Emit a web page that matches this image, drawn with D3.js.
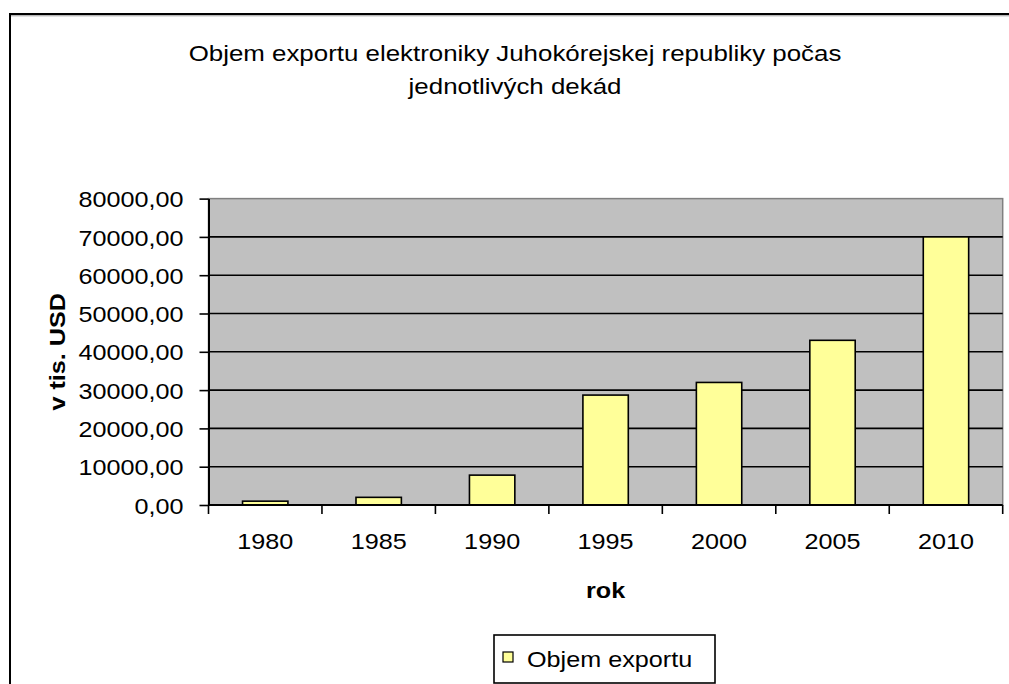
<!DOCTYPE html>
<html>
<head>
<meta charset="utf-8">
<script src="https://cdn.jsdelivr.net/npm/d3@7"></script>
<style>
  body { margin: 0; background: #fff; }
  text { font-family: "Liberation Sans", Arial, sans-serif; fill: #000; }
</style>
</head>
<body>
<div id="chart"></div>
<script>
// export of electronics, South Korea, by decade
var years = ["1980", "1985", "1990", "1995", "2000", "2005", "2010"];
var exportValues = [1000, 2000, 7800, 28700, 32000, 43000, 70000];
var yTicks = [0, 10000, 20000, 30000, 40000, 50000, 60000, 70000, 80000];
var titleLines = ["Objem exportu elektroniky Juhokórejskej republiky počas", "jednotlivých dekád"];
var seriesName = "Objem exportu";

var W = 1009, H = 684;
var plot = {left: 208.5, right: 1002.7, top: 198.6, bottom: 505};
var sx = 1.12, fs = 22.5;   // text in the original is drawn a bit wide

var svg = d3.select("#chart").append("svg")
  .attr("width", W)
  .attr("height", H);

svg.append("rect")
  .attr("width", W).attr("height", H)
  .attr("fill", "#fff");

// chart area border (runs off the right and bottom edge)
svg.append("rect")
  .attr("x", 10).attr("y", 14)
  .attr("width", W + 10).attr("height", H + 10)
  .attr("fill", "none")
  .attr("stroke", "#000")
  .attr("stroke-width", 2);
svg.append("line")
  .attr("x1", 11).attr("x2", W).attr("y1", 15.8).attr("y2", 15.8)
  .attr("stroke", "#999").attr("stroke-width", 1);

var x = d3.scaleBand()
  .domain(years)
  .range([plot.left, plot.right])
  .padding(0);

var y = d3.scaleLinear()
  .domain([0, 80000])
  .range([plot.bottom, plot.top]);

// plot area
svg.append("rect")
  .attr("x", plot.left).attr("y", plot.top)
  .attr("width", plot.right - plot.left)
  .attr("height", plot.bottom - plot.top)
  .attr("fill", "#c0c0c0")
  .attr("stroke", "#808080")
  .attr("stroke-width", 1.5);

// gridlines
svg.append("g")
  .selectAll("line")
  .data(yTicks.filter(d => d > 0 && d < 80000))
  .enter().append("line")
    .attr("x1", plot.left).attr("x2", plot.right)
    .attr("y1", d => y(d)).attr("y2", d => y(d))
    .attr("stroke", "#000")
    .attr("stroke-width", 1.6);

// bars
var bw = x.bandwidth();
svg.append("g")
  .selectAll("rect")
  .data(years)
  .enter().append("rect")
    .attr("x", d => x(d) + bw * 0.3)
    .attr("width", bw * 0.4)
    .attr("y", (d, i) => y(exportValues[i]))
    .attr("height", (d, i) => y(0) - y(exportValues[i]))
    .attr("fill", "#ffff99")
    .attr("stroke", "#000")
    .attr("stroke-width", 1.6);

// y axis
var yAxis = svg.append("g")
  .attr("transform", "translate(" + plot.left + ",0)")
  .call(d3.axisLeft(y)
    .tickValues(yTicks)
    .tickSize(9)
    .tickSizeOuter(0)
    .tickFormat(d => d.toFixed(2).replace(".", ",")));
yAxis.select(".domain").attr("stroke", "#000").attr("stroke-width", 2);
yAxis.selectAll(".tick line").attr("stroke", "#000").attr("stroke-width", 1.6);
yAxis.selectAll(".tick text")
  .attr("x", -25 / sx)
  .attr("dy", "0.36em")
  .attr("transform", "scale(" + sx + ",1)")
  .style("font-family", "'Liberation Sans', Arial, sans-serif")
  .style("font-size", fs + "px")
  .attr("fill", "#000");

// x axis: ticks between categories
var xAxis = svg.append("g");
var bounds = years.map(d => x(d)).concat([x.range()[1]]);
xAxis.append("line")
  .attr("x1", plot.left).attr("x2", plot.right)
  .attr("y1", plot.bottom).attr("y2", plot.bottom)
  .attr("stroke", "#000").attr("stroke-width", 2);
xAxis.selectAll(".xt")
  .data(bounds)
  .enter().append("line")
    .attr("x1", d => d).attr("x2", d => d)
    .attr("y1", plot.bottom).attr("y2", plot.bottom + 9)
    .attr("stroke", "#000").attr("stroke-width", 1.6);
xAxis.selectAll(".xl")
  .data(years)
  .enter().append("g")
    .attr("transform", d => "translate(" + (x(d) + bw / 2) + "," + (plot.bottom + 44) + ") scale(" + sx + ",1)")
  .append("text")
    .attr("text-anchor", "middle")
    .style("font-size", fs + "px")
    .text(d => d);

// axis titles
svg.append("g")
  .attr("transform", "translate(" + ((plot.left + plot.right) / 2) + ",598) scale(" + sx + ",1)")
  .append("text")
    .attr("text-anchor", "middle")
    .style("font-size", fs + "px")
    .style("font-weight", "bold")
    .text("rok");

svg.append("g")
  .attr("transform", "translate(65," + ((plot.top + plot.bottom) / 2) + ") rotate(-90) scale(" + sx + ",1)")
  .append("text")
    .attr("text-anchor", "middle")
    .style("font-size", fs + "px")
    .style("font-weight", "bold")
    .text("v tis. USD");

// title
var title = svg.append("g")
  .attr("transform", "translate(515,61) scale(1.15,1)");
title.selectAll("text")
  .data(titleLines)
  .enter().append("text")
    .attr("text-anchor", "middle")
    .attr("y", (d, i) => i * 33)
    .style("font-size", fs + "px")
    .text(d => d);

// legend
var legend = svg.append("g");
legend.append("rect")
  .attr("x", 494).attr("y", 635)
  .attr("width", 221).attr("height", 48)
  .attr("fill", "#fff")
  .attr("stroke", "#000")
  .attr("stroke-width", 1.6);
legend.append("rect")
  .attr("x", 503).attr("y", 652)
  .attr("width", 10).attr("height", 10)
  .attr("fill", "#ffff99")
  .attr("stroke", "#000")
  .attr("stroke-width", 1.2);
legend.append("g")
  .attr("transform", "translate(527,667) scale(" + sx + ",1)")
  .append("text")
    .style("font-size", fs + "px")
    .text(seriesName);
</script>
</body>
</html>
